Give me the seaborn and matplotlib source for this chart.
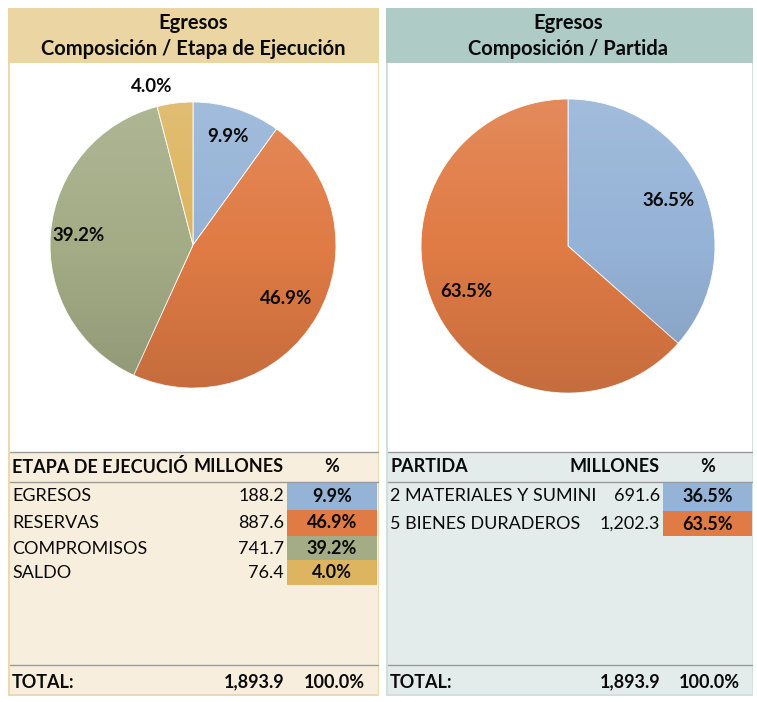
import matplotlib
matplotlib.use("Agg")
import matplotlib.pyplot as plt
import seaborn as sns
import numpy as np
from matplotlib.patches import Rectangle, Circle

# ---------------- data ----------------
etapa_labels = ["EGRESOS", "RESERVAS", "COMPROMISOS", "SALDO"]
etapa_millones = [188.2, 887.6, 741.7, 76.4]
partida_labels = ["2 MATERIALES Y SUMINI", "5 BIENES DURADEROS"]
partida_millones = [691.6, 1202.3]
titles_left = ["Egresos", "Composición / Etapa de Ejecución"]
titles_right = ["Egresos", "Composición / Partida"]
head_left = ["ETAPA DE EJECUCIÓ", "MILLONES", "%"]
head_right = ["PARTIDA", "MILLONES", "%"]
total_label = "TOTAL:"

# ---------------- style ----------------
sns.set_theme(style="white")
plt.rcParams['font.family'] = ['Lato', 'DejaVu Sans']
plt.rcParams['text.color'] = '#0A0A0A'

etapa_colors = sns.color_palette(["#95B3D7", "#E07B45", "#A4AC86", "#DDB560"])
partida_colors = sns.color_palette(["#95B3D7", "#E07B45"])

W, H = 757, 702
fig = plt.figure(figsize=(W / 100, H / 100), dpi=100)
fig.patch.set_facecolor("white")
bg = fig.add_axes([0, 0, 1, 1])
bg.set_xlim(0, W)
bg.set_ylim(H, 0)
bg.axis("off")

FS = 13.0
TFS = 14.5
PFS = 13.5

def panel(x0, x1, head_col, body_col, border_col):
    bg.add_patch(Rectangle((x0, 8), x1 - x0, 688, facecolor=border_col, edgecolor="none", zorder=0))
    bg.add_patch(Rectangle((x0, 8), x1 - x0, 55, facecolor=head_col, edgecolor="none", zorder=1))
    bg.add_patch(Rectangle((x0 + 2, 63), x1 - x0 - 3, 389, facecolor="white", edgecolor="none", zorder=1))
    bg.add_patch(Rectangle((x0 + 2, 452), x1 - x0 - 3, 242, facecolor=body_col, edgecolor="none", zorder=1))
    for yl in (452, 482, 665):
        bg.plot([x0 + 2, x1 - 1], [yl, yl], color="#9A9A9A", lw=1.0, zorder=3)

def draw_pie(cx, cy, r, values, colors, dists, aligns):
    ax = fig.add_axes([(cx - r) / W, 1 - (cy + r) / H, 2 * r / W, 2 * r / H])
    wedges, _ = ax.pie(values, colors=colors, startangle=90, counterclock=False,
                       radius=1, wedgeprops=dict(edgecolor="white", linewidth=0.6))
    ax.set_xlim(-1, 1)
    ax.set_ylim(-1, 1)
    ax.axis("off")
    grad = np.linspace(0, 1, 256).reshape(-1, 1)
    rgba = np.zeros((256, 1, 4))
    rgba[..., :3] = np.where(grad[..., None] < 0.5, 1.0, 0.0)
    rgba[..., 3] = np.abs(grad - 0.5) * 0.24
    im = ax.imshow(rgba, extent=[-1, 1, -1, 1], origin="upper", aspect="auto", zorder=5)
    im.set_clip_path(Circle((0, 0), 1, transform=ax.transData))
    total = sum(values)
    for w, v, d, ha in zip(wedges, values, dists, aligns):
        th = np.deg2rad((w.theta1 + w.theta2) / 2)
        ax.text(d * np.cos(th), d * np.sin(th), f"{100 * v / total:.1f}%",
                ha=ha, va="center", fontsize=PFS, fontweight="bold", zorder=6)
    ax.set_xlim(-1, 1)
    ax.set_ylim(-1, 1)
    return ax

# ---------------- left panel ----------------
panel(8, 379, "#EBD5A3", "#F8EEDD", "#EBD9B4")
bg.text(193, 23, titles_left[0], ha="center", va="center", fontsize=TFS, fontweight="bold", zorder=4)
bg.text(193, 49, titles_left[1], ha="center", va="center", fontsize=TFS, fontweight="bold", zorder=4)
draw_pie(193, 245, 143, etapa_millones, etapa_colors,
         [0.80, 0.75, 0.80, 1.12], ["center", "center", "center", "right"])

bg.text(12, 467, head_left[0], ha="left", va="center", fontsize=FS, fontweight="bold", zorder=4)
bg.text(284, 467, head_left[1], ha="right", va="center", fontsize=FS, fontweight="bold", zorder=4)
bg.text(332, 467, head_left[2], ha="center", va="center", fontsize=FS, fontweight="bold", zorder=4)

tot_l = sum(etapa_millones)
row_y = [496, 523, 549, 573]
row_top = [482, 510, 536, 560]
row_h = [28, 26, 24, 25]
for lab, v, c, y, yt, h in zip(etapa_labels, etapa_millones, etapa_colors, row_y, row_top, row_h):
    bg.add_patch(Rectangle((287, yt), 90, h, facecolor=c, edgecolor="none", zorder=2))
    bg.text(12, y, lab, ha="left", va="center", fontsize=FS, zorder=4)
    bg.text(284, y, f"{v:,.1f}", ha="right", va="center", fontsize=FS, zorder=4)
    bg.text(332, y, f"{100 * v / tot_l:.1f}%", ha="center", va="center", fontsize=FS,
            fontweight="bold", zorder=4)

bg.text(12, 682, total_label, ha="left", va="center", fontsize=FS, fontweight="bold", zorder=4)
bg.text(284, 682, f"{tot_l:,.1f}", ha="right", va="center", fontsize=FS, fontweight="bold", zorder=4)
bg.text(365, 682, f"{100 * tot_l / tot_l:.1f}%", ha="right", va="center", fontsize=FS, fontweight="bold", zorder=4)

# ---------------- right panel ----------------
panel(386, 753, "#AFCBC5", "#E3ECEA", "#D2E0DC")
bg.text(568, 23, titles_right[0], ha="center", va="center", fontsize=TFS, fontweight="bold", zorder=4)
bg.text(568, 49, titles_right[1], ha="center", va="center", fontsize=TFS, fontweight="bold", zorder=4)
draw_pie(568, 246, 147, partida_millones, partida_colors, [0.75, 0.76], ["center", "center"])

bg.text(390, 467, head_right[0], ha="left", va="center", fontsize=FS, fontweight="bold", zorder=4)
bg.text(660, 467, head_right[1], ha="right", va="center", fontsize=FS, fontweight="bold", zorder=4)
bg.text(708, 467, head_right[2], ha="center", va="center", fontsize=FS, fontweight="bold", zorder=4)

tot_r = sum(partida_millones)
for lab, v, c, y, yt, h in zip(partida_labels, partida_millones, partida_colors, [496, 524], [482, 511], [29, 25]):
    bg.add_patch(Rectangle((663, yt), 89, h, facecolor=c, edgecolor="none", zorder=2))
    bg.text(390, y, lab, ha="left", va="center", fontsize=FS, zorder=4)
    bg.text(660, y, f"{v:,.1f}", ha="right", va="center", fontsize=FS, zorder=4)
    bg.text(708, y, f"{100 * v / tot_r:.1f}%", ha="center", va="center", fontsize=FS,
            fontweight="bold", zorder=4)

bg.text(390, 682, total_label, ha="left", va="center", fontsize=FS, fontweight="bold", zorder=4)
bg.text(660, 682, f"{tot_r:,.1f}", ha="right", va="center", fontsize=FS, fontweight="bold", zorder=4)
bg.text(740, 682, f"{100 * tot_r / tot_r:.1f}%", ha="right", va="center", fontsize=FS, fontweight="bold", zorder=4)

fig.savefig("out.png", dpi=100, facecolor="white")
